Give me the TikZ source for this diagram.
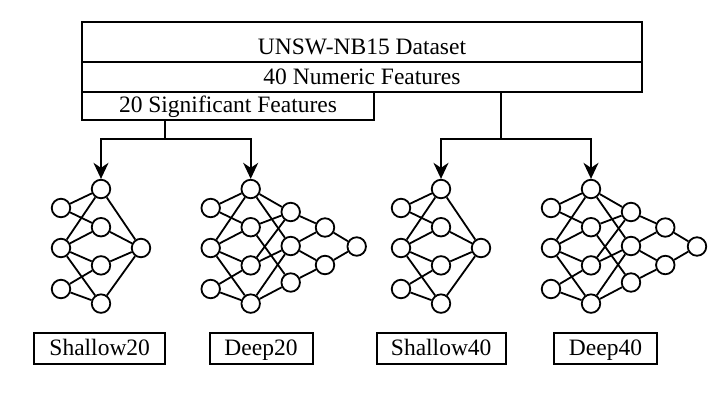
\documentclass[tikz,border=0pt]{standalone}
\usepackage{fontspec}
\setmainfont{Liberation Serif}
\usetikzlibrary{arrows.meta}
\newcommand\shallownet[2]{%
  \foreach \k/\yy in {1/208,2/248,3/289} \node[neuron] (#1i\k) at (#2,\yy) {};
  \foreach \k/\yy in {1/189,2/227.2,3/265.4,4/303.6} \node[neuron] (#1h\k) at (#2+40,\yy) {};
  \node[neuron] (#1o) at (#2+80,248) {};
  \foreach \a/\b in {i1/h1,i1/h2,i2/h1,i2/h2,i2/h3,i2/h4,i3/h3,i3/h4,h1/o,h2/o,h3/o,h4/o}
    \draw[link] (#1\a) -- (#1\b);
}
\newcommand\deepnet[2]{%
  \foreach \k/\yy in {1/208,2/248,3/289} \node[neuron] (#1i\k) at (#2,\yy) {};
  \foreach \k/\yy in {1/189,2/227.2,3/265.4,4/303.6} \node[neuron] (#1h\k) at (#2+40,\yy) {};
  \foreach \k/\yy in {1/212,2/246,3/282.5} \node[neuron] (#1g\k) at (#2+80,\yy) {};
  \foreach \k/\yy in {1/227.5,2/265} \node[neuron] (#1f\k) at (#2+114.3,\yy) {};
  \node[neuron] (#1o) at (#2+146,246.5) {};
  \foreach \a/\b in {i1/h1,i1/h2,i2/h1,i2/h2,i2/h3,i2/h4,i3/h3,i3/h4,
                     h1/g1,h1/g2,h2/g1,h2/g3,h3/g1,h3/g2,h4/g2,h4/g3,
                     g1/f1,g2/f1,g2/f2,g3/f2,f1/o,f2/o}
    \draw[link] (#1\a) -- (#1\b);
}
\begin{document}
\begin{tikzpicture}[x=1pt,y=-1pt,
  box/.style={draw,line width=2pt,inner sep=0pt,font=\fontsize{23.5}{28}\selectfont},
  neuron/.style={draw,circle,line width=1.8pt,minimum size=18.5pt,inner sep=0pt},
  link/.style={line width=1.8pt},
  conn/.style={line width=2pt},
  arr/.style={line width=2pt,-{Stealth[length=16pt,width=15pt,inset=5pt]}}]
\fill[white] (0,0) rectangle (728,400);
\useasboundingbox (0,0) rectangle (728,400);

\node[box,anchor=north west,minimum width=560pt,minimum height=40pt,text height=25pt,text depth=0pt] (ds) at (81,21) {UNSW-NB15 Dataset};
\node[box,anchor=north west,minimum width=560pt,minimum height=30pt,text height=17pt,text depth=2pt] (num) at (81,61) {40 Numeric Features};
\node[box,anchor=north west,minimum width=292pt,minimum height=28pt,text height=17pt,text depth=4pt] (sig) at (81,91) {20 Significant Features};

\shallownet{s20}{61}
\deepnet{d20}{210.7}
\shallownet{s40}{401}
\deepnet{d40}{551}

\coordinate (lsplit) at (165,139);
\draw[conn] (lsplit |- sig.south) -- (lsplit);
\draw[arr] (lsplit) -| (s20h1.north);
\draw[arr] (lsplit) -| (d20h1.north);
\coordinate (rsplit) at (501,139);
\draw[conn] (rsplit |- num.south) -- (rsplit);
\draw[arr] (rsplit) -| (s40h1.north);
\draw[arr] (rsplit) -| (d40h1.north);

\node[box,minimum width=130.7pt,minimum height=31pt,text height=17pt,text depth=3.2pt] (l1) at (99.7,348.8) {Shallow20};
\node[box,minimum width=103pt,minimum height=31pt,text height=17pt,text depth=3.2pt] (l2) at (261,348.8) {Deep20};
\node[box,minimum width=129pt,minimum height=31pt,text height=17pt,text depth=3.2pt] (l3) at (441.2,348.8) {Shallow40};
\node[box,minimum width=102.4pt,minimum height=31pt,text height=17pt,text depth=3.2pt] (l4) at (605.5,348.8) {Deep40};
\end{tikzpicture}
\end{document}
